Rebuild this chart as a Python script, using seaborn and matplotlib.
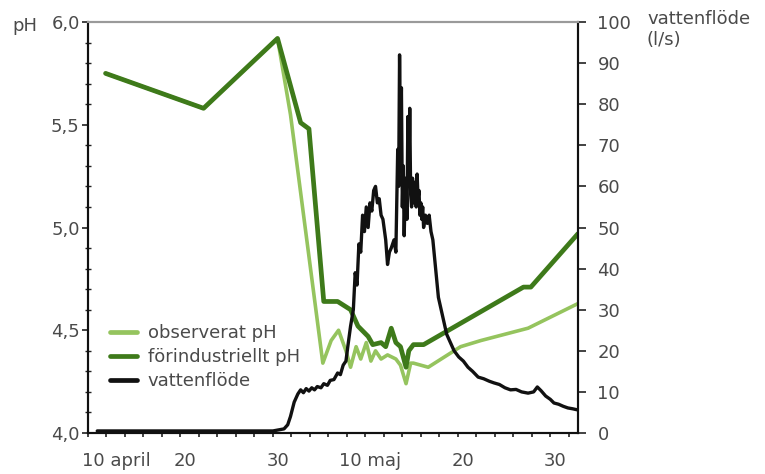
import matplotlib
matplotlib.use("Agg")
import matplotlib.pyplot as plt
import matplotlib.ticker as mticker
import matplotlib.transforms as mtrans
import seaborn as sns

# x = days after 10 april
ph_pre_day = [1.9, 12.5, 20.5, 23.0, 23.9, 25.5, 27.0, 28.4, 29.2, 30.3, 30.8, 31.7, 32.2,
              32.8, 33.3, 33.8, 34.4, 34.7, 35.2, 36.3, 47.1, 47.9, 53.0]
ph_pre = [5.75, 5.58, 5.92, 5.51, 5.48, 4.64, 4.64, 4.60, 4.52, 4.47, 4.43, 4.44, 4.42,
          4.51, 4.44, 4.42, 4.32, 4.40, 4.43, 4.43, 4.71, 4.71, 4.97]

ph_obs_day = [1.9, 12.5, 20.5, 21.9, 25.4, 26.3, 27.1, 27.9, 28.4, 29.0, 29.5, 30.1, 30.6,
              31.1, 31.7, 32.4, 33.3, 33.8, 34.4, 34.9, 35.2, 36.8, 40.3, 42.5, 47.6, 53.0]
ph_obs = [5.75, 5.58, 5.92, 5.55, 4.34, 4.45, 4.50, 4.40, 4.32, 4.42, 4.36, 4.44, 4.35,
          4.40, 4.36, 4.38, 4.36, 4.33, 4.24, 4.34, 4.34, 4.32, 4.42, 4.45, 4.51, 4.63]

flow_day = [1.0, 20.0, 21.2, 21.6, 21.9, 22.3, 22.7, 23.0, 23.3, 23.6, 23.9, 24.2, 24.5,
            24.8, 25.2, 25.5, 25.9, 26.2, 26.6, 27.0, 27.3, 27.6, 27.9, 28.1, 28.4, 28.7,
            28.9, 29.1, 29.3, 29.5, 29.7, 29.9, 30.1, 30.3, 30.5, 30.7, 30.9, 31.1, 31.3,
            31.5, 31.7, 31.9, 32.2, 32.4, 32.6, 32.8, 33.1, 33.3, 33.5, 33.6, 33.7, 33.8,
            33.9, 34.0, 34.1, 34.2, 34.3, 34.4, 34.5, 34.6, 34.7, 34.8, 34.9, 35.0, 35.1,
            35.2, 35.35, 35.5, 35.6, 35.7, 35.8, 35.9, 36.0, 36.1, 36.2, 36.3, 36.5, 36.7,
            36.9, 37.1, 37.3, 37.6, 37.9, 38.2, 38.5, 38.8, 39.2, 39.6, 40.1, 40.6, 41.1,
            41.6, 42.2, 42.8, 43.4, 43.9, 44.5, 45.1, 45.7, 46.3, 46.9, 47.6, 48.2, 48.6,
            49.0, 49.5, 50.0, 50.4, 50.9, 51.4, 51.9, 52.4, 53.0]
flow = [0.5, 0.5, 1.0, 2.0, 4.0, 7.5, 9.5, 10.5, 9.8, 10.8, 10.2, 11.0, 10.5,
        11.3, 11.0, 12.0, 11.6, 12.8, 13.0, 14.6, 14.2, 16.5, 17.5, 21.0, 26.0, 30.0,
        39.0, 36.0, 46.0, 44.0, 53.0, 49.0, 55.0, 50.0, 56.0, 54.0, 59.0, 60.0, 56.0,
        57.0, 53.0, 52.0, 47.0, 41.0, 44.0, 45.0, 47.0, 44.0, 69.0, 60.0, 92.0, 70.0,
        84.0, 55.0, 65.0, 48.0, 58.0, 62.0, 52.0, 77.0, 60.0, 79.0, 58.0, 55.0, 62.0,
        56.0, 61.0, 55.0, 63.0, 57.0, 59.0, 53.0, 56.0, 52.0, 55.0, 50.0, 53.0, 51.0,
        53.0, 49.0, 47.0, 40.0, 33.0, 30.0, 27.0, 24.0, 22.0, 20.0, 18.5, 17.5, 16.0,
        15.0, 13.6, 13.2, 12.6, 12.2, 11.8, 11.0, 10.5, 10.6, 10.0, 9.7, 10.0, 11.2,
        10.3, 9.0, 8.2, 7.3, 7.0, 6.5, 6.1, 5.9, 5.6]

x_tick_days = [0, 10, 20, 30, 40, 50]
x_tick_labels = ["10 april", "20", "30", "10 maj", "20", "30"]
ph_ticks = [4.0, 4.5, 5.0, 5.5, 6.0]
ph_tick_labels = ["4,0", "4,5", "5,0", "5,5", "6,0"]
flow_ticks = [0, 10, 20, 30, 40, 50, 60, 70, 80, 90, 100]

OBS = "#95c45e"
PRE = "#3e7a1a"
FLOW = "#111111"
TXT = "#4a4a4a"

sns.set_style("ticks")
plt.rcParams["font.family"] = ["DejaVu Sans"]
plt.rcParams["font.size"] = 13

fig = plt.figure(figsize=(7.65, 4.74), dpi=100)
ax = fig.add_axes([88 / 765, 41 / 474, 490 / 765, 411 / 474])
ax2 = ax.twinx()

sns.lineplot(x=ph_obs_day, y=ph_obs, ax=ax, color=OBS, lw=2.6, estimator=None,
             label="observerat pH")
sns.lineplot(x=ph_pre_day, y=ph_pre, ax=ax, color=PRE, lw=3.4, estimator=None,
             label="förindustriellt pH")
sns.lineplot(x=flow_day, y=flow, ax=ax2, color=FLOW, lw=2.4, estimator=None,
             label="vattenflöde")

h1, l1 = ax.get_legend_handles_labels()
h2, l2 = ax2.get_legend_handles_labels()
if ax.get_legend():
    ax.get_legend().remove()
if ax2.get_legend():
    ax2.get_legend().remove()

ax.set_xlim(0, 53)
ax.set_ylim(4.0, 6.0)
ax2.set_ylim(0, 100)

ax.set_xticks(x_tick_days)
ax.set_xticklabels(x_tick_labels)
ax.xaxis.set_minor_locator(mticker.MultipleLocator(2))
ax.set_yticks(ph_ticks)
ax.set_yticklabels(ph_tick_labels)
ax.yaxis.set_minor_locator(mticker.MultipleLocator(0.1))
ax2.set_yticks(flow_ticks)
ax2.set_yticklabels([str(v) for v in flow_ticks])

ax.tick_params(axis="x", which="both", direction="out", length=3, width=1.2,
               color="#222222", pad=11, labelcolor=TXT, labelsize=13)
ax.tick_params(axis="y", which="major", direction="out", length=4, width=1.2,
               color="#222222", pad=2, labelcolor=TXT, labelsize=13)
ax.tick_params(axis="y", which="minor", direction="inout", length=4, width=1.0,
               color="#222222")
ax2.tick_params(axis="y", which="major", direction="out", length=6, width=1.2,
                color="#222222", pad=8, labelcolor=TXT, labelsize=13)

xl = ax.get_xticklabels()
xl[0].set_horizontalalignment("left")
xl[0].set_transform(xl[0].get_transform() +
                    mtrans.ScaledTranslation(-6 / 100, 0, fig.dpi_scale_trans))
for lab in xl[1:]:
    lab.set_transform(lab.get_transform() +
                      mtrans.ScaledTranslation(5 / 100, 0, fig.dpi_scale_trans))

for a in (ax, ax2):
    a.set_xlabel("")
    a.set_ylabel("")
    for s in ("left", "right", "bottom"):
        a.spines[s].set_visible(True)
        a.spines[s].set_color("#111111")
        a.spines[s].set_linewidth(1.5)
    a.spines["top"].set_visible(True)
    a.spines["top"].set_color("#9a9a9a")
    a.spines["top"].set_linewidth(1.5)

leg = ax2.legend(h1 + h2, l1 + l2, loc="upper left", bbox_to_anchor=(0.045, 0.265),
                 frameon=False, fontsize=13, handlelength=1.5, handletextpad=0.6,
                 labelspacing=0.33, borderaxespad=0, borderpad=0, labelcolor=TXT)
for lh in leg.get_lines():
    lh.set_linewidth(3.4)

fig.text(12 / 765, 1 - 26 / 474, "pH", ha="left", va="center", color=TXT, fontsize=13)
fig.text(647 / 765, 1 - 10 / 474, "vattenflöde\n(l/s)", ha="left", va="top",
         color=TXT, fontsize=13, linespacing=1.2)

fig.savefig("out.png", dpi=100)
